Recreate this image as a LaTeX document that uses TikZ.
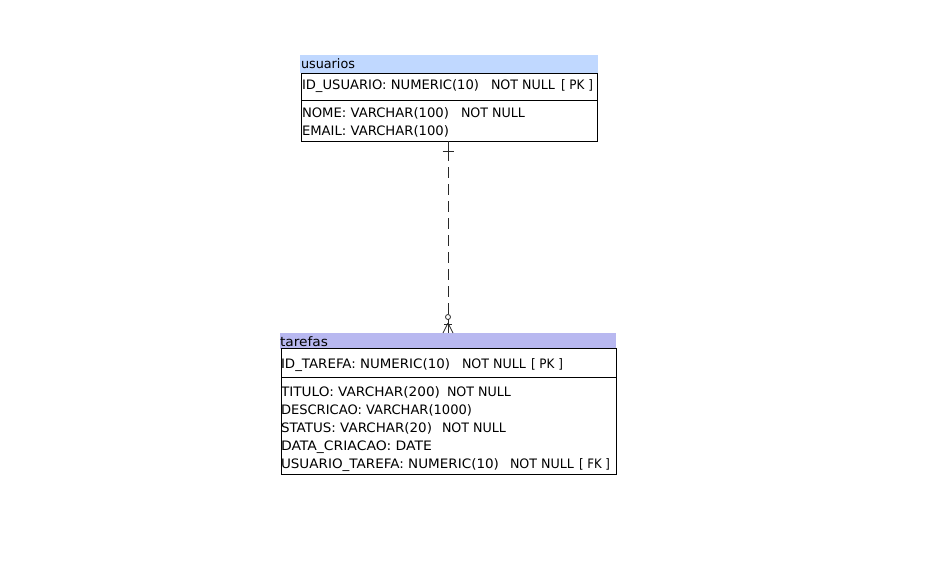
\documentclass[tikz,border=0pt]{standalone}
\usepackage{fontspec}
\setmainfont{DejaVu Sans}
\usepackage{graphicx}
\definecolor{ucol}{RGB}{192,216,255}
\definecolor{tcol}{RGB}{184,184,240}
\definecolor{lcol}{RGB}{40,40,40}
\newcommand\fld[2]{\resizebox{#1pt}{\height}{#2}}
\begin{document}
\begin{tikzpicture}[x=1pt,y=-1pt,
  txt/.style={anchor=base west,inner sep=0pt,outer sep=0pt,font=\fontsize{13}{15}\selectfont},
  hdr/.style={anchor=north west,inner sep=0pt,outer sep=0pt,draw=none},
  tbox/.style={anchor=north west,inner sep=0pt,outer sep=0pt,draw=black,line width=0.9pt},
  sep/.style={draw=black,line width=0.9pt},
  rel/.style={draw=lcol,line width=0.9pt}]
\useasboundingbox (0,0) rectangle (927,564);
% usuarios
\node[hdr,fill=ucol,minimum width=298pt,minimum height=18.5pt] (uh) at (300,55) {};
\node[tbox,minimum width=296pt,minimum height=68pt] (ub) at (301,73.5) {};
\draw[sep] (ub.west |- 0,100) -- (ub.east |- 0,100);
\node[txt] (ut) at (301,69) {\fld{54}{usuarios}};
\node[txt] (u1a) at (302,90) {\fld{177}{ID\_USUARIO: NUMERIC(10)}};
\node[txt] (u1b) at (491,90) {\fld{64}{NOT NULL}};
\node[txt] (u1c) at (561,90) {\fld{32}{[ PK ]}};
\node[txt] (u2a) at (302,118) {\fld{147}{NOME: VARCHAR(100)}};
\node[txt] (u2b) at (461,118) {\fld{64}{NOT NULL}};
\node[txt] (u3a) at (302,136) {\fld{147}{EMAIL: VARCHAR(100)}};
% tarefas
\node[hdr,fill=tcol,minimum width=336pt,minimum height=15.5pt] (th) at (280,333) {};
\node[tbox,minimum width=335pt,minimum height=126pt] (tb) at (281,348) {};
\draw[sep] (tb.west |- 0,377) -- (tb.east |- 0,377);
\node[txt] (tt) at (280,346) {\fld{48}{tarefas}};
\node[txt] (t1a) at (281,368) {\fld{169}{ID\_TAREFA: NUMERIC(10)}};
\node[txt] (t1b) at (462,368) {\fld{64}{NOT NULL}};
\node[txt] (t1c) at (531,368) {\fld{32}{[ PK ]}};
\node[txt] (t2a) at (281,396) {\fld{159}{TITULO: VARCHAR(200)}};
\node[txt] (t2b) at (447,396) {\fld{64}{NOT NULL}};
\node[txt] (t3a) at (281,414) {\fld{191}{DESCRICAO: VARCHAR(1000)}};
\node[txt] (t4a) at (281,432) {\fld{151}{STATUS: VARCHAR(20)}};
\node[txt] (t4b) at (442,432) {\fld{64}{NOT NULL}};
\node[txt] (t5a) at (281,450) {\fld{151}{DATA\_CRIACAO: DATE}};
\node[txt] (t6a) at (281,468) {\fld{218}{USUARIO\_TAREFA: NUMERIC(10)}};
\node[txt] (t6b) at (510,468) {\fld{64}{NOT NULL}};
\node[txt] (t6c) at (579,468) {\fld{31}{[ FK ]}};
% relationship
\coordinate (r0) at (th.north |- ub.south);
\coordinate (r1) at ([yshift=-20pt]r0);
\coordinate (rc) at ([yshift=16pt]th.north);
\draw[rel] (r0) -- (r1);
\draw[rel,dash pattern=on 11pt off 6pt] ([yshift=-6pt]r1) -- ([yshift=2.5pt]rc);
\draw[rel] ([xshift=-5.5pt,yshift=-10pt]r0) -- ([xshift=5.5pt,yshift=-10pt]r0);
\draw[rel,line width=0.8pt] (rc) circle (2.5pt);
\draw[rel,line width=0.8pt] ([yshift=-2.5pt]rc) -- (th.north);
\draw[rel,line width=0.8pt] ([xshift=-4pt,yshift=-7pt]rc) -- ([xshift=4pt,yshift=-7pt]rc);
\draw[rel,line width=0.8pt] ([yshift=-6pt]rc) -- ([xshift=-5pt]th.north);
\draw[rel,line width=0.8pt] ([yshift=-6pt]rc) -- ([xshift=5pt]th.north);
\end{tikzpicture}
\end{document}
